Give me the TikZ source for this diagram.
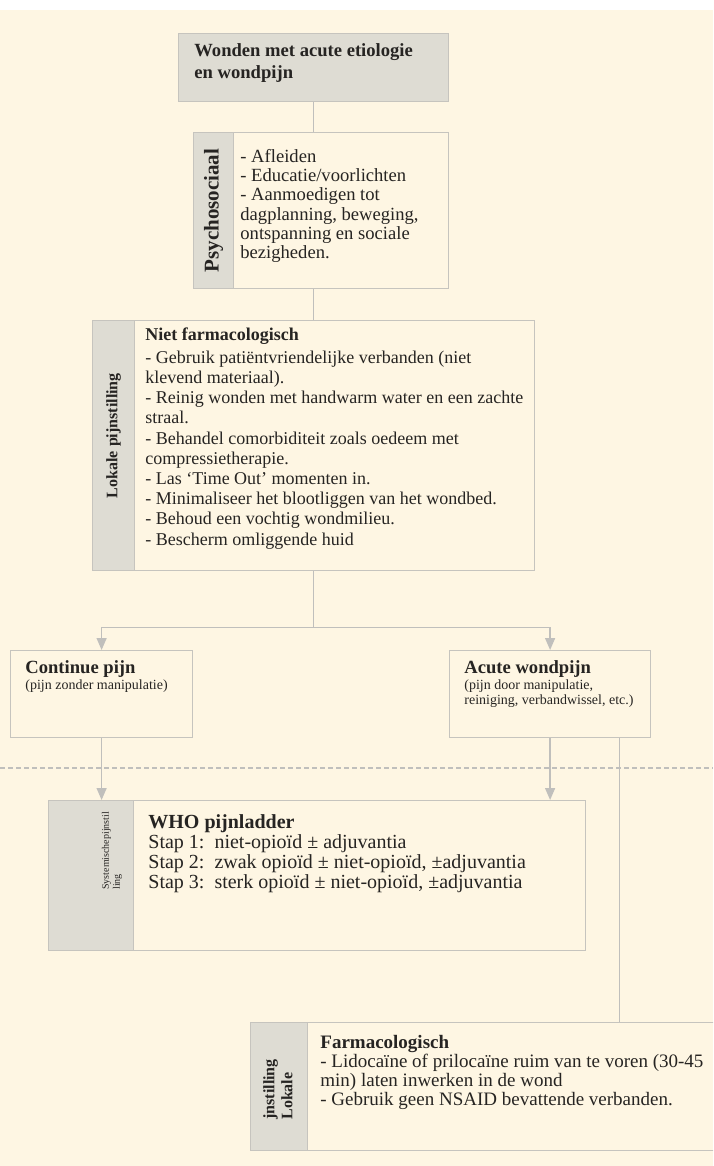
\documentclass[tikz,border=0pt]{standalone}
\usepackage{fontspec}
\setmainfont{Liberation Serif}
\usepackage{xcolor}
\usetikzlibrary{arrows.meta}
\definecolor{paper}{RGB}{254,246,227}
\definecolor{stripGray}{RGB}{222,220,211}
\definecolor{frameGray}{RGB}{198,196,190}
\definecolor{lineGray}{RGB}{192,191,188}
\definecolor{ink}{RGB}{38,36,34}
\tikzset{
frame/.style = {rectangle, draw=frameGray, line width=0.6pt, anchor=north west,
                inner sep=0pt, minimum width=#1},
frame/.default = 100pt, % width of the box
strip/.style = {frame=#1, fill=stripGray},
txt/.style = {anchor=north west, inner sep=0pt, align=left, text=ink,
              font=\fontsize{9.3}{9.8}\selectfont},
side/.style = {rotate=90, inner sep=0pt, align=left, text=ink,
               font=\bfseries\fontsize{8}{9}\selectfont},
link/.style = {draw=lineGray, line width=0.7pt},
arrow/.style = {link, -{Triangle[width=5pt, length=6pt]}}
}

\begin{document}
\begin{tikzpicture}[x=0.5pt, y=-0.5pt]

\useasboundingbox (0,0) rectangle (713,1166);
\clip (0,0) rectangle (713,1166);
\fill[white] (0,0) rectangle (713,10);
\fill[paper] (0,10) rectangle (713,1166);

% boxes
\node[strip=135pt, minimum height=34pt] (topBox) at (178,33) {};
\node[txt, font=\bfseries\fontsize{9.3}{11}\selectfont] (topText) at (194,43) {Wonden met acute etiologie\\en wondpijn};

\node[frame=127.5pt, minimum height=78pt] (psyBox) at (193,132) {};
\node[strip=20pt, minimum height=78pt] (psyStrip) at (193,132) {};
\node[side, font=\bfseries\fontsize{10.5}{12}\selectfont] (psyLabel) at (psyStrip.center) {Psychosociaal};
\node[txt, font=\fontsize{9.3}{9.6}\selectfont] (psyText) at (240,149) {- Afleiden\\- Educatie/voorlichten\\- Aanmoedigen tot\\dagplanning, beweging,\\ontspanning en sociale\\bezigheden.};

\node[frame=221pt, minimum height=125pt] (lokBox) at (92,320) {};
\node[strip=21pt, minimum height=125pt] (lokStrip) at (92,320) {};
\node[side] (lokLabel) at ([yshift=5pt]lokStrip.center) {Lokale pijnstilling};
\node[txt, font=\fontsize{9.0}{10.1}\selectfont] (lokText) at (145,327) {\textbf{Niet farmacologisch}\\[1.5pt]
- Gebruik patiëntvriendelijke verbanden (niet\\
klevend materiaal).\\
- Reinig wonden met handwarm water en een zachte\\
straal.\\
- Behandel comorbiditeit zoals oedeem met\\
compressietherapie.\\
- Las `Time Out' momenten in.\\
- Minimaliseer het blootliggen van het wondbed.\\
- Behoud een vochtig wondmilieu.\\
- Bescherm omliggende huid};

\node[frame=91pt, minimum height=43.5pt] (contBox) at (10,650) {};
\node[txt, font=\fontsize{7}{7.5}\selectfont] (contText) at (25,660) {\textbf{\fontsize{9.3}{10}\selectfont Continue pijn}\\[0.5pt](pijn zonder manipulatie)};

\node[frame=100.5pt, minimum height=43.5pt] (acuteBox) at (449,650) {};
\node[txt, font=\fontsize{7}{7.5}\selectfont] (acuteText) at (464,660) {\textbf{\fontsize{9.3}{10}\selectfont Acute wondpijn}\\[0.5pt](pijn door manipulatie,\\reiniging, verbandwissel, etc.)};

\node[frame=268.5pt, minimum height=75pt] (whoBox) at (48,800) {};
\node[strip=42.5pt, minimum height=75pt] (whoStrip) at (48,800) {};
\node[side, anchor=west, font=\fontsize{5}{5.5}\selectfont] (whoLabel) at (112,890) {Systemischepijnstil\\ling};
\node[txt, font=\fontsize{10}{10}\selectfont] (whoText) at (148,814) {\textbf{WHO pijnladder}\\
Stap 1:\ \ niet-opioïd ± adjuvantia\\
Stap 2:\ \ zwak opioïd ± niet-opioïd, ±adjuvantia\\
Stap 3:\ \ sterk opioïd ± niet-opioïd, ±adjuvantia};

\node[frame=233pt, minimum height=64pt] (farmBox) at (250,1022) {};
\node[strip=28.5pt, minimum height=64pt] (farmStrip) at (250,1022) {};
\node[side, anchor=west] (farmLabel) at (278,1120) {jnstilling\\Lokale};
\node[txt, font=\fontsize{9.5}{9.5}\selectfont] (farmText) at (320,1035) {\textbf{Farmacologisch}\\
- Lidocaïne of prilocaïne ruim van te voren (30-45\\
min) laten inwerken in de wond\\
- Gebruik geen NSAID bevattende verbanden.};

% connectors
\coordinate (split) at ([yshift=-28pt]topBox.south |- lokBox.south);
\coordinate (acuteTap) at ([xshift=-16pt]acuteBox.south east);
\coordinate (dashL) at (0,768);
\coordinate (dashR) at (713,768);
\draw[link] (topBox.south) -- (topBox.south |- psyBox.north);
\draw[link] (topBox.south |- psyBox.south) -- (topBox.south |- lokBox.north);
\draw[link] (split |- lokBox.south) -- (split);
\draw[arrow] (split) -| (contBox.north);
\draw[arrow] (split) -| (acuteBox.north);
\draw[link, dash pattern=on 2.5pt off 1.5pt] (dashL) -- (dashR);
\draw[arrow] (contBox.south) -- (contBox.south |- whoBox.north);
\draw[arrow] (acuteBox.south) -- (acuteBox.south |- whoBox.north);
\draw[link] (acuteTap) -- (acuteTap |- farmBox.north);
\end{tikzpicture}
\end{document}
